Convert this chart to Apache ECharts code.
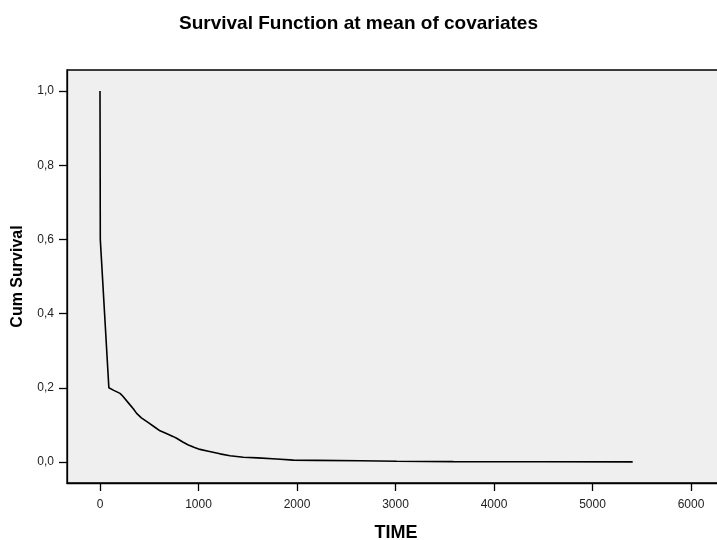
<!DOCTYPE html>
<html><head><meta charset="utf-8">
<script src="https://cdn.jsdelivr.net/npm/echarts@6/dist/echarts.min.js"></script>
<style>html,body{margin:0;padding:0;background:#fff}#c{width:717px;height:540px}</style>
</head><body><div id="c"></div>
<script>
var titleText = 'Survival Function at mean of covariates';
var xName = 'TIME';
var yName = 'Cum Survival';
var xTicks = [0, 1000, 2000, 3000, 4000, 5000, 6000];
var yTicks = [0, 0.2, 0.4, 0.6, 0.8, 1.0];
var times = [0, 3, 90, 110, 140, 203, 230, 305, 340, 372, 420, 491, 550, 609, 680, 740, 778, 840, 897, 960, 1015, 1100, 1218, 1320, 1455, 1600, 1794, 1963, 2200, 2640, 3012, 3587, 4500, 5408];
var surv = [1.0, 0.6, 0.2, 0.196, 0.193, 0.185, 0.178, 0.154, 0.143, 0.131, 0.119, 0.106, 0.095, 0.084, 0.076, 0.069, 0.064, 0.054, 0.046, 0.039, 0.034, 0.029, 0.022, 0.017, 0.013, 0.011, 0.008, 0.005, 0.0045, 0.0035, 0.002, 0.001, 0.0005, 0.0003];

var data = times.map(function(t, i){ return [t, surv[i]]; });
var FONT = 'Liberation Sans, Arial, sans-serif';
var chart = echarts.init(document.getElementById('c'));
chart.setOption({
  animation: false,
  backgroundColor: '#fff',
  title: {
    text: titleText, left: 'center', top: 9,
    textStyle: {fontFamily: FONT, fontWeight: 'bold', fontSize: 19, color: '#000'}
  },
  grid: {
    left: 67, top: 70, right: -8, bottom: 57,
    containLabel: false, outerBoundsMode: 'none',
    show: true, backgroundColor: '#efefef', borderColor: '#000', borderWidth: 1.3
  },
  xAxis: {
    type: 'value', min: -335, max: 6345,
    name: xName, nameLocation: 'middle', nameGap: 41,
    nameTextStyle: {fontFamily: FONT, fontWeight: 'bold', fontSize: 18, color: '#000'},
    splitLine: {show: false},
    axisLine: {show: true, onZero: false, lineStyle: {color: '#000', width: 1.3}},
    axisTick: {show: true, length: 8, lineStyle: {color: '#000', width: 1.3}, customValues: xTicks},
    axisLabel: {fontFamily: FONT, fontSize: 12, color: '#222', margin: 16, customValues: xTicks,
      formatter: function(v){ return String(v); }}
  },
  yAxis: {
    type: 'value', min: -0.0566, max: 1.0566,
    name: yName, nameLocation: 'middle', nameGap: 33, nameRotate: 90,
    nameTextStyle: {fontFamily: FONT, fontWeight: 'bold', fontSize: 16, color: '#000', padding: [0, 0, 8, 0]},
    splitLine: {show: false},
    axisLine: {show: true, onZero: false, lineStyle: {color: '#000', width: 1.3}},
    axisTick: {show: true, length: 8, lineStyle: {color: '#000', width: 1.3}, customValues: yTicks},
    axisLabel: {fontFamily: FONT, fontSize: 12, color: '#222', margin: 13, customValues: yTicks,
      formatter: function(v){ return v.toFixed(1).replace('.', ','); }}
  },
  series: [{
    type: 'line', data: data, showSymbol: false, symbol: 'none',
    lineStyle: {color: '#000', width: 1.6}
  }]
});
</script></body></html>
